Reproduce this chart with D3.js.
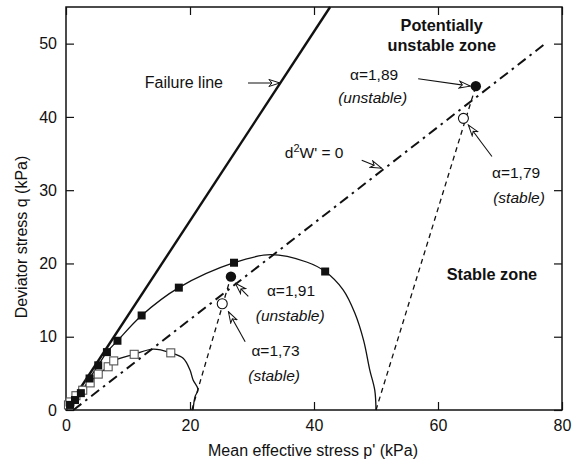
<!DOCTYPE html>
<html>
<head>
<meta charset="utf-8">
<script src="https://cdn.jsdelivr.net/npm/d3@7"></script>
<style>
  body { margin: 0; background: #fff; }
  text { font-family: Arial, "Liberation Sans", sans-serif; fill: #111; }
</style>
</head>
<body>
<div id="chart"></div>
<script>
// data (p', q) in kPa
const xTicks = [0, 20, 40, 60, 80];
const yTicks = [0, 10, 20, 30, 40, 50];

const failureLine = [[0, 0], [42.6, 55]];
const secondOrderLine = [[1.2, 0], [77.3, 50]];

const pathA = [[0,0],[0.65,0.7],[1.45,1.36],[2.4,2.3],[3.8,4.3],[5.2,6.1],[6.6,7.9],[8.3,9.45],
  [12.2,12.9],[18.2,16.7],[27.1,20.1],[33,21.2],[38.8,20.2],[41.8,18.9],[44.7,16.4],
  [46.6,13.2],[48,9.5],[49,5.45],[49.8,2.7],[50,0]];
const squaresA = [[0.65,0.7],[1.45,1.36],[2.4,2.3],[3.8,4.3],[5.2,6.1],[6.6,7.9],[8.3,9.45],
  [12.2,12.9],[18.2,16.7],[27.1,20.1],[41.8,18.9]];

const pathB = [[0,0],[0.4,0.7],[0.65,1.1],[1.6,1.95],[2.7,2.7],[3.9,3.7],[5.2,4.9],[6.8,5.9],
  [7.7,6.7],[11,7.6],[14.1,8.3],[16.9,7.8],[18.9,7.05],[20,5.45],[20.5,4.1],[21.3,2.8],
  [20.8,1.8],[20.5,0]];
const squaresB = [[0.4,0.7],[0.65,1.1],[1.6,1.95],[2.7,2.7],[3.9,3.7],[5.2,4.9],[6.8,5.9],
  [7.7,6.7],[11,7.6],[16.9,7.8]];

const dashedPaths = [[[20.3,0],[26.6,18.2]], [[50,0],[66.1,44.2]]];
const filledDots = [[26.6,18.2],[66.1,44.2]];
const openDots = [[25.2,14.5],[64.1,39.8]];

const arrows = [
  [[29.35,44.63],[34.5,44.63]],
  [[47.7,34.1],[50.9,33.0]],
  [[56.8,45.2],[65.2,44.2]],
  [[68.7,34.6],[64.9,38.9]],
  [[29.4,15.5],[27.3,17.3]],
  [[28.9,9.3],[26.2,13.4]]
];

const labels = [
  {t:'Failure line', p:12.7, q:43.9, size:16},
  {t:'α=1,89', p:45.8, q:45.0, size:15.5},
  {t:'(unstable)', p:43.9, q:41.9, size:15.5, italic:true},
  {t:'α=1,79', p:68.7, q:31.7, size:15.5},
  {t:'(stable)', p:68.9, q:28.3, size:15.5, italic:true},
  {t:'α=1,91', p:32.4, q:15.6, size:15.5},
  {t:'(unstable)', p:30.6, q:12.1, size:15.5, italic:true},
  {t:'α=1,73', p:29.9, q:7.4, size:15.5},
  {t:'(stable)', p:29.4, q:4.0, size:15.5, italic:true},
  {t:'Stable zone', p:61.4, q:17.7, size:16.3, bold:true}
];

const width = 581, height = 461;
const svg = d3.select('#chart').append('svg')
  .attr('width', width).attr('height', height);

const x = d3.scaleLinear().domain([0, 80]).range([66, 562]);
const y = d3.scaleLinear().domain([0, 55]).range([410, 7]);

svg.append('defs').append('marker')
  .attr('id', 'head')
  .attr('viewBox', '0 0 13 9')
  .attr('refX', 12).attr('refY', 4.5)
  .attr('markerWidth', 13).attr('markerHeight', 9)
  .attr('markerUnits', 'userSpaceOnUse')
  .attr('orient', 'auto')
  .append('path')
  .attr('d', 'M1,1 L12,4.5 L1,8 L4,4.5 Z')
  .style('fill', '#fff').style('stroke', '#111').style('stroke-width', 1);

const line = d3.line().x(d => x(d[0])).y(d => y(d[1]));
const curve = d3.line().x(d => x(d[0])).y(d => y(d[1])).curve(d3.curveCatmullRom.alpha(0.5));

// frame with inward ticks on all sides
svg.append('rect')
  .attr('x', x(0)).attr('y', y(55))
  .attr('width', x(80) - x(0)).attr('height', y(0) - y(55))
  .style('fill', 'none').style('stroke', '#111').style('stroke-width', 1.5);

svg.append('g').attr('transform', 'translate(0,' + y(0) + ')')
  .call(d3.axisBottom(x).tickValues(xTicks).tickSizeInner(-8).tickSizeOuter(0).tickPadding(10))
  .call(g => g.select('.domain').remove());
svg.append('g').attr('transform', 'translate(0,' + y(55) + ')')
  .call(d3.axisTop(x).tickValues(xTicks).tickSizeInner(-8).tickSizeOuter(0).tickFormat(''))
  .call(g => g.select('.domain').remove());
svg.append('g').attr('transform', 'translate(' + x(0) + ',0)')
  .call(d3.axisLeft(y).tickValues(yTicks).tickSizeInner(-8).tickSizeOuter(0).tickPadding(9))
  .call(g => g.select('.domain').remove());
svg.append('g').attr('transform', 'translate(' + x(80) + ',0)')
  .call(d3.axisRight(y).tickValues(yTicks).tickSizeInner(-8).tickSizeOuter(0).tickFormat(''))
  .call(g => g.select('.domain').remove());

svg.selectAll('.tick line').style('stroke', '#111').style('stroke-width', 1.2);
svg.selectAll('.tick text')
  .style('font-family', 'Arial, "Liberation Sans", sans-serif')
  .style('font-size', '16px').style('fill', '#111');

svg.append('text')
  .attr('x', 313).attr('y', 456)
  .style('text-anchor', 'middle').style('font-size', '16px')
  .text("Mean effective stress p' (kPa)");
svg.append('text')
  .attr('transform', 'translate(27,' + 237 + ') rotate(-90)')
  .style('text-anchor', 'middle').style('font-size', '16px')
  .text('Deviator stress q (kPa)');

// lines
svg.append('path').attr('d', line(failureLine))
  .style('fill', 'none').style('stroke', '#111').style('stroke-width', 2.4);
svg.append('path').attr('d', line(secondOrderLine))
  .style('fill', 'none').style('stroke', '#111').style('stroke-width', 2)
  .style('stroke-dasharray', '10,5,2.5,5');

dashedPaths.forEach(d => {
  svg.append('path').attr('d', line(d))
    .style('fill', 'none').style('stroke', '#111').style('stroke-width', 1.3)
    .style('stroke-dasharray', '5,4');
});

svg.append('path').attr('d', curve(pathA))
  .style('fill', 'none').style('stroke', '#111').style('stroke-width', 1.3);
svg.append('path').attr('d', curve(pathB))
  .style('fill', 'none').style('stroke', '#111').style('stroke-width', 1.3);

const sq = 8;
svg.selectAll('.sqB').data(squaresB).enter().append('rect')
  .attr('x', d => x(d[0]) - sq/2).attr('y', d => y(d[1]) - sq/2)
  .attr('width', sq).attr('height', sq)
  .style('fill', '#fff').style('stroke', '#555').style('stroke-width', 1.1);
svg.selectAll('.sqA').data(squaresA).enter().append('rect')
  .attr('x', d => x(d[0]) - sq/2).attr('y', d => y(d[1]) - sq/2)
  .attr('width', sq).attr('height', sq)
  .style('fill', '#111');

svg.selectAll('.od').data(openDots).enter().append('circle')
  .attr('cx', d => x(d[0])).attr('cy', d => y(d[1])).attr('r', 5)
  .style('fill', '#fff').style('stroke', '#111').style('stroke-width', 1.1);
svg.selectAll('.fd').data(filledDots).enter().append('circle')
  .attr('cx', d => x(d[0])).attr('cy', d => y(d[1])).attr('r', 5.2)
  .style('fill', '#111');

arrows.forEach(d => {
  svg.append('path').attr('d', line(d))
    .style('fill', 'none').style('stroke', '#111').style('stroke-width', 1.1)
    .attr('marker-end', 'url(#head)');
});

labels.forEach(l => {
  svg.append('text')
    .attr('x', x(l.p)).attr('y', y(l.q))
    .style('font-size', l.size + 'px')
    .style('font-style', l.italic ? 'italic' : 'normal')
    .style('font-weight', l.bold ? 'bold' : 'normal')
    .text(l.t);
});

// d2W' = 0 with superscript
const dw = svg.append('text').attr('x', x(35.3)).attr('y', y(34.4)).style('font-size', '15.5px');
dw.append('tspan').text('d');
dw.append('tspan').attr('dy', -6).style('font-size', '11px').text('2');
dw.append('tspan').attr('dy', 6).text("W' = 0");

svg.append('text').attr('x', x(60.6)).attr('y', y(51.7))
  .style('text-anchor', 'middle').style('font-size', '16.3px').style('font-weight', 'bold')
  .text('Potentially');
svg.append('text').attr('x', x(60.6)).attr('y', y(49.0))
  .style('text-anchor', 'middle').style('font-size', '16.3px').style('font-weight', 'bold')
  .text('unstable zone');
</script>
</body>
</html>
